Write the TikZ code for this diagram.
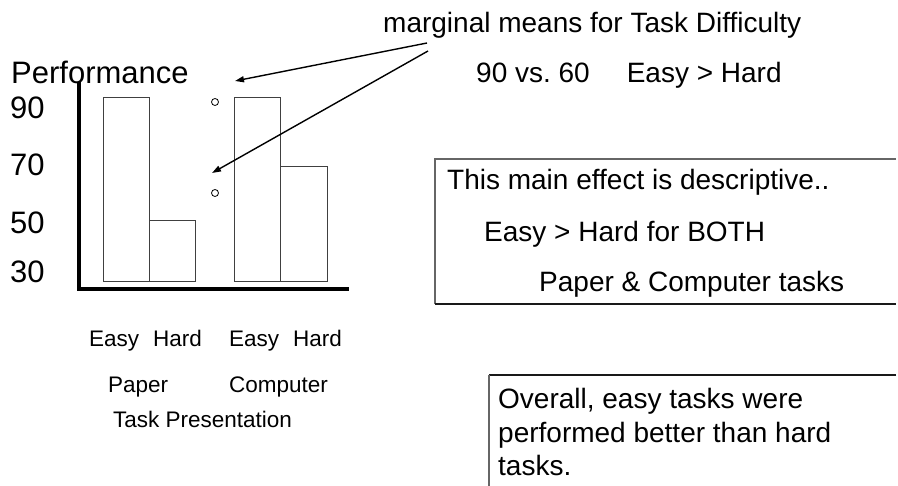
\documentclass[tikz,border=0pt]{standalone}
\usepackage{fontspec}
\setmainfont{Liberation Sans}
\usetikzlibrary{arrows.meta}
\tikzset{
  big/.style={font=\fontsize{28bp}{32bp}\selectfont, inner sep=0pt, anchor=base west},
  axislabel/.style={font=\fontsize{31bp}{35bp}\selectfont, inner sep=0pt, anchor=base west},
  small/.style={font=\fontsize{22.5bp}{26bp}\selectfont, inner sep=0pt, anchor=base west},
  bar/.style={draw=black!75, line width=1bp},
  axis/.style={line width=4.5bp, line cap=rect},
  frame/.style={draw=black!60, line width=1.2bp},
  darkframe/.style={draw=black!90, line width=1.2bp},
  pointer/.style={line width=1.4bp, -{Triangle[length=9bp,width=6bp]}},
  mean/.style={circle, draw, line width=0.8bp, inner sep=0pt, minimum size=7bp}
}
\begin{document}
\begin{tikzpicture}[x=1bp,y=-1bp]
\useasboundingbox (0,0) rectangle (898,486);

% titles and axis labels
\node[big] (title) at (383,33) {marginal means for Task Difficulty};
\node[axislabel] (perf) at (11,84) {Performance};
\node[big] (cmp) at (476,83) {90 vs.\ 60\hspace{37bp}Easy > Hard};
\node[axislabel] (t90) at (10,119) {90};
\node[axislabel] (t70) at (10,176) {70};
\node[axislabel] (t50) at (10,234) {50};
\node[axislabel] (t30) at (10,283) {30};

% bars
\draw[bar] (103,282) rectangle (149,98);
\draw[bar] (149,282) rectangle (195,221);
\draw[bar] (234,282) rectangle (280,98);
\draw[bar] (280,282) rectangle (327,167);

% axes
\draw[axis] (79,84) -- (79,289) -- (347,289);

% marginal means
\node[mean] (m1) at (215,102) {};
\node[mean] (m2) at (215,193) {};

% pointers from the title
\coordinate (s1) at (427,43);
\coordinate (s2) at (428,51);
\coordinate (e1) at (235,81);
\coordinate (e2) at (212,173);
\draw[pointer] (s1) -- (e1);
\draw[pointer] (s2) -- (e2);

% category labels
\node[small] (ea1) at (89,347) {Easy};
\node[small] (ha1) at (153,347) {Hard};
\node[small] (ea2) at (229,347) {Easy};
\node[small] (ha2) at (293,347) {Hard};
\node[small] (pap) at (108,392) {Paper};
\node[small] (com) at (229,392) {Computer};
\node[small] (tp) at (113,427) {Task Presentation};

% explanation boxes, running off the right and bottom edges
\draw[frame] (896,159) -- (435,159) -- (435,304);
\draw[darkframe] (435,304) -- (896,304);
\node[big] (b1) at (447,190) {This main effect is descriptive..};
\node[big] (b2) at (484,242) {Easy > Hard for BOTH};
\node[big] (b3) at (539,292) {Paper \& Computer tasks};

\draw[darkframe] (896,375) -- (489,375);
\draw[frame] (489,375) -- (489,486);
\node[big] (c1) at (498,408) {Overall, easy tasks were};
\node[big] (c2) at (498,442) {performed better than hard};
\node[big] (c3) at (498,475) {tasks.};
\end{tikzpicture}
\end{document}
